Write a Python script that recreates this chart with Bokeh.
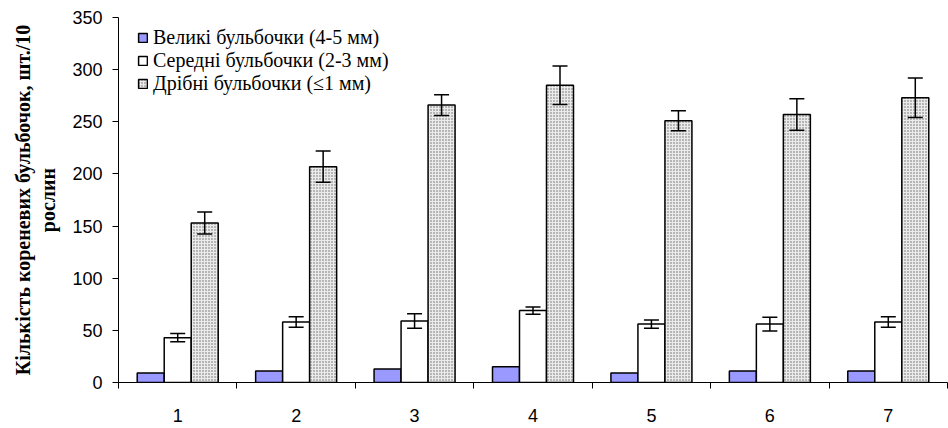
from bokeh.plotting import figure
from bokeh.models import ColumnDataSource, Whisker, FixedTicker, Range1d, TeeHead, LinearAxis
from bokeh.embed import file_html
from bokeh.resources import INLINE

categories = [1, 2, 3, 4, 5, 6, 7]
tick_labels = ["1", "2", "3", "4", "5", "6", "7"]
series_names = ["Великі бульбочки (4-5 мм)",
                "Середні бульбочки (2-3 мм)",
                "Дрібні бульбочки (≤1 мм)"]
large = [9, 11, 13, 15, 9, 11, 11]
medium = [43, 58, 59, 69, 56, 56, 58]
medium_err = [4, 5, 7, 3.5, 4, 6.5, 5]
small = [153, 207, 266, 285, 251, 257, 273]
small_err = [10.5, 15, 10, 18.5, 9.5, 15, 19]
y_ticks = [0, 50, 100, 150, 200, 250, 300, 350]
y_title_lines = ["Кількість кореневих бульбочок, шт./10", "рослин"]

BW = 0.228

src = ColumnDataSource(dict(
    x_l=[c - BW for c in categories],
    x_m=list(categories),
    x_s=[c + BW for c in categories],
    large=large, medium=medium, small=small,
    m_up=[v + e for v, e in zip(medium, medium_err)],
    m_lo=[v - e for v, e in zip(medium, medium_err)],
    s_up=[v + e for v, e in zip(small, small_err)],
    s_lo=[v - e for v, e in zip(small, small_err)],
))

p = figure(width=948, height=428, output_backend="svg", toolbar_location=None,
           x_range=Range1d(0.5, 7.5), y_range=Range1d(0, 350),
           min_border_left=118, min_border_right=1, min_border_top=17, min_border_bottom=46)
p.outline_line_color = None
p.xgrid.grid_line_color = None
p.ygrid.grid_line_color = None
p.background_fill_color = "white"

p.vbar(x="x_l", top="large", width=BW, source=src, fill_color="#9999FF",
       line_color="black", line_width=1.5, legend_label=series_names[0])
p.vbar(x="x_m", top="medium", width=BW, source=src, fill_color="white",
       line_color="black", line_width=1.5, legend_label=series_names[1])
p.vbar(x="x_s", top="small", width=BW, source=src, fill_color="#ebebeb",
       hatch_pattern="dot", hatch_color="#666666", hatch_scale=3, hatch_weight=1,
       line_color="black", line_width=1.5, legend_label=series_names[2])

for base, up, lo in [("x_m", "m_up", "m_lo"), ("x_s", "s_up", "s_lo")]:
    w = Whisker(source=src, base=base, upper=up, lower=lo, level="overlay",
                line_color="black", line_width=1.5,
                upper_head=TeeHead(size=15, line_width=1.5, line_color="black"),
                lower_head=TeeHead(size=15, line_width=1.5, line_color="black"))
    p.add_layout(w)

# x axis
xa = p.xaxis[0]
xa.ticker = FixedTicker(ticks=categories,
                        minor_ticks=[c - 0.5 for c in categories] + [categories[-1] + 0.5])
xa.major_label_overrides = {c: t for c, t in zip(categories, tick_labels)}
xa.major_tick_line_color = None
xa.major_tick_out = 0
xa.major_tick_in = 0
xa.minor_tick_out = 6
xa.minor_tick_in = 0
xa.minor_tick_line_color = "black"
xa.axis_line_color = "black"
xa.major_label_text_font = "Liberation Sans"
xa.major_label_text_font_size = "18px"
xa.major_label_text_color = "black"
xa.major_label_standoff = 20

# y axis
ya = p.yaxis[0]
ya.ticker = FixedTicker(ticks=y_ticks)
ya.minor_tick_line_color = None
ya.major_tick_out = 6
ya.major_tick_in = 0
ya.axis_line_color = "black"
ya.major_tick_line_color = "black"
ya.major_label_text_font = "Liberation Sans"
ya.major_label_text_font_size = "18px"
ya.major_label_text_color = "black"
ya.major_label_standoff = 10


def title_axis(text, standoff):
    ax = LinearAxis(ticker=FixedTicker(ticks=[]), axis_line_color=None,
                    major_tick_line_color=None, minor_tick_line_color=None,
                    major_tick_out=0, major_tick_in=0, minor_tick_out=0, minor_tick_in=0,
                    major_label_standoff=0, major_label_text_font_size="0px",
                    axis_label=text, axis_label_standoff=standoff,
                    axis_label_text_font="Liberation Serif",
                    axis_label_text_font_style="bold",
                    axis_label_text_font_size="20px",
                    axis_label_text_color="black")
    p.add_layout(ax, "left")


title_axis(y_title_lines[1], 11)
title_axis(y_title_lines[0], 0)

lg = p.legend[0]
lg.location = (19, 287)
lg.padding = 0
lg.spacing = 0
lg.margin = 0
lg.label_height = 22
lg.glyph_height = 11
lg.glyph_width = 11
lg.label_standoff = 5
lg.border_line_color = None
lg.background_fill_alpha = 0
lg.label_text_font = "Liberation Serif"
lg.label_text_font_style = "normal"
lg.label_text_font_size = "20px"
lg.label_text_color = "black"

open("out.html", "w").write(file_html(p, INLINE))
